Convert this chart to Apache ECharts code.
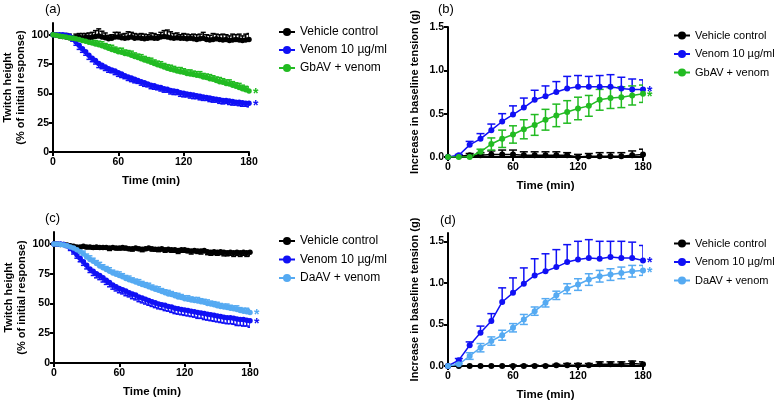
<!DOCTYPE html>
<html>
<head>
<meta charset="utf-8">
<script src="https://cdn.jsdelivr.net/npm/echarts@6/dist/echarts.min.js"></script>
<style>
html, body {margin: 0; background: #fff;}
#chart {width: 774px; height: 404px;}
</style>
</head>
<body>
<div id="chart"></div>
<script>
// twitch height panels, one reading every 3 min
var timeTwitch= [0,3,6,9,12,15,18,21,24,27,
  30,33,36,39,42,45,48,51,54,57,
  60,63,66,69,72,75,78,81,84,87,
  90,93,96,99,102,105,108,111,114,117,
  120,123,126,129,132,135,138,141,144,147,
  150,153,156,159,162,165,168,171,174,177,
  180];
// baseline tension panels, one reading every 10 min
var timeTension= [0,10,20,30,40,50,60,70,80,90,100,110,120,130,140,150,160,170,180];

var xTicks= [0,60,120,180];
var yTicksTwitch= [0,25,50,75,100];
var yTicksTension= [0,0.5,1.0,1.5];

var namesAB= ['Vehicle control', 'Venom 10 µg/ml', 'GbAV + venom'];
var namesCD= ['Vehicle control', 'Venom 10 µg/ml', 'DaAV + venom'];

// (a)
var vehicleA= [100,99.5,99,98.5,98,97.5,97,97.5,98,97,
  98,97.5,98,98.5,99,98,97.5,96.5,97,98,
  98,97.5,97,97.5,98,97,97.5,97,96.5,97,
  97.5,97,97,98,98.5,98,97.5,97,97.5,97,
  97,96.5,97,96.5,96,96.5,97,96,95.5,96,
  96.5,96,95.5,96,95,95.5,96,95.5,95,95.5,
  96];
var vehicleAErr= [0,1,2,2,3,3,2,3,3,4,
  3,4,4,5,6,5,4,3,3,4,
  4,3,4,5,4,4,3,4,4,3,
  4,4,3,4,5,6,5,4,4,3,
  4,4,3,4,4,4,5,4,4,5,
  4,4,5,4,4,5,4,5,4,5,
  5];
var venomA= [100,100,100,100,99.5,99,97,94,91,88,
  85.5,82.5,80,78,75.5,74,72.5,71,70,69,
  67.5,66.5,65,64,63,62,61,60,59,58,
  57,56.5,55.5,55,54,53.5,52.5,52,51.5,50.5,
  50,49.5,49,48.5,48,47.5,47,46.5,46,45.5,
  45,44.5,44,44,43.5,43,42.5,42.5,42,41.5,
  41.5];
var venomAErr= [0,0.5,1,1,1.5,2,2.5,3,3.5,3,
  3,3.5,3,3,3.5,3,3,3,2.5,3,
  3,3,2.5,3,3,3,2.5,3,3,2.5,
  3,3,2.5,3,3,2.5,3,3,2.5,3,
  3,2.5,3,3,2.5,3,3,2.5,3,3,
  2.5,3,3,2.5,3,3,2.5,3,3,2.5,
  3];
var gbavA= [100,99.5,99,98.5,98,97.5,97,96.5,96,95,
  94.5,93.5,93,92,91.5,90.5,89.5,88.5,87.5,86.5,
  85.5,85,84,83.5,82.5,81.5,80.5,79.5,78.5,77.5,
  76.5,75.5,74.5,73.5,72.5,71.5,70.5,70,69,68.5,
  68,67,66.5,66,65.5,65,64,63.5,62.5,62,
  61,60,59.5,58.5,58,57,56,55,54,53,
  52];
var gbavAErr= [0,0.5,1,1,1.5,2,2,2.5,3,3,
  3,3,3.5,3,3,3.5,3,3,3.5,3,
  3,3.5,3,3,3.5,3,3,3.5,3,3,
  3.5,3,3,3.5,3,3,3.5,3,3,3.5,
  3,3,3.5,3,3,3.5,3,3,3.5,3,
  3,3.5,3,3,3.5,3,3,3.5,3,3,
  3.5];

// (c)
var vehicleC= [100,100,99.5,99.5,99,98.5,98,97.5,97.5,98,
  97.5,97.5,97,97.5,97,97,97,96.5,97,96.5,
  96.5,97,96.5,96,96,96.5,96,95.5,96,96.5,
  96,95.5,95.5,96,95,95.5,95,95,94.5,95,
  95,94.5,94,94.5,94,94,94.5,93.5,93,93.5,
  93,93.5,93,92.5,93,92.5,93,92.5,93,92.5,
  93];
var vehicleCErr= [0,0.5,1,1,1,1.5,1.5,2,1.5,1.5,
  1.5,1.5,1.5,2,1.5,1.5,1.5,2,1.5,1.5,
  1.5,2,1.5,1.5,2,1.5,1.5,2,1.5,1.5,
  2,1.5,2,2,2,2,2,2,2.5,2,
  2,2,2.5,2,2,2.5,2,2.5,2.5,2.5,
  2.5,2.5,3,2.5,2.5,3,2.5,3,2.5,3,
  3];
var venomC= [100,100,100,99.5,98.5,96.5,94,91,88,85,
  82,79,77,75,73.5,71.5,69.5,67.5,65.5,64,
  62.5,61.5,60.5,59,58,57,55.5,54.5,53.5,52.5,
  51.5,50.5,49.5,49,48.5,47.5,47,46,45.5,45,
  44.5,44,43.5,43,42.5,42,41.5,41,40.5,40,
  39.5,39,38.5,38,38,37.5,37,36.5,36.5,36,
  35.5];
var venomCErr= [0,0.5,1,1,1.5,2,2.5,3,3,3,
  3,3,3.5,3.5,3.5,3.5,3.5,3.5,3.5,3.5,
  3.5,3.5,4,3.5,4,4,4,4,4,4,
  4,4,4,4,4.5,4,4.5,4.5,4.5,4.5,
  4.5,4.5,4.5,4.5,5,4.5,5,5,5,5,
  5,5,5,5,5,5,5.5,5,5.5,5,
  5.5];
var daavC= [100,100,99.5,99,98.5,97.5,96.5,95,93.5,91.5,
  89,87,85.5,83.5,81.5,80,78.5,77,75.5,74.5,
  73.5,72.5,71,70,69,68,67,66,65,64,
  63,62,61,60,59,58,57.5,56.5,55.5,55,
  54,53.5,53,52.5,52,51.5,51,50,49.5,49,
  48,47.5,47,46.5,46,45.5,45,44,43.5,43,
  42.5];
var daavCErr= [0,0.5,1,1,1.5,2,2,2.5,2.5,2.5,
  2.5,3,2.5,2.5,3,2.5,2.5,3,2.5,2.5,
  3,2.5,2.5,3,2.5,2.5,3,2.5,2.5,3,
  2.5,2.5,3,2.5,2.5,3,2.5,2.5,3,2.5,
  2.5,3,2.5,2.5,3,2.5,2.5,3,2.5,2.5,
  3,2.5,2.5,3,2.5,2.5,3,2.5,2.5,3,
  2.5];

// (b)
var vehicleB= [0,0.01,0.02,0.02,0.03,0.03,0.03,0.02,0.02,0.02,0.02,0.02,0.00,0.01,0.01,0.01,0.01,0.02,0.03];
var vehicleBErr= [0,0.01,0.02,0.03,0.04,0.05,0.05,0.04,0.04,0.04,0.04,0.03,0.03,0.03,0.04,0.04,0.04,0.05,0.06];
var venomB= [0,0.02,0.14,0.21,0.31,0.41,0.49,0.57,0.66,0.70,0.75,0.79,0.81,0.81,0.81,0.81,0.79,0.78,0.78];
var venomBErr= [0,0.01,0.04,0.06,0.07,0.09,0.10,0.11,0.11,0.12,0.12,0.14,0.13,0.12,0.13,0.14,0.13,0.12,0.11];
var gbavB= [0,0,0,0.06,0.15,0.21,0.26,0.32,0.37,0.43,0.48,0.52,0.56,0.59,0.66,0.68,0.69,0.71,0.73];
var gbavBErr= [0,0,0.01,0.03,0.07,0.10,0.10,0.11,0.12,0.12,0.13,0.13,0.13,0.12,0.12,0.12,0.12,0.11,0.10];

// (d)
var vehicleD= [0,0,0,0,0,0,0,0,0,0,0.01,0.01,0.01,0.01,0.02,0.02,0.02,0.03,0.02];
var vehicleDErr= [0,0,0,0,0,0,0.01,0.01,0.01,0.01,0.01,0.02,0.02,0.02,0.03,0.03,0.03,0.03,0.03];
var venomD= [0,0.07,0.25,0.40,0.54,0.77,0.88,0.99,1.09,1.14,1.19,1.25,1.28,1.30,1.29,1.31,1.30,1.30,1.27];
var venomDErr= [0,0.02,0.04,0.08,0.09,0.17,0.18,0.19,0.20,0.21,0.21,0.21,0.22,0.22,0.21,0.19,0.20,0.19,0.18];
var daavD= [0,0.02,0.12,0.22,0.30,0.37,0.46,0.56,0.66,0.76,0.85,0.93,0.98,1.04,1.08,1.10,1.12,1.14,1.15];
var daavDErr= [0,0.01,0.04,0.05,0.05,0.06,0.05,0.06,0.05,0.05,0.05,0.06,0.07,0.07,0.07,0.07,0.07,0.07,0.06];

var BLACK= '#000000', BLUE= '#1010f5', GREEN= '#22bb22', LIGHT= '#55aaf2';
var FONT= '"Liberation Sans", Arial, Helvetica, sans-serif';

function pairs(xs, ys) {
  return xs.map(function(x, i) { return [x, ys[i]]; });
}

function triples(xs, ys, es) {
  return xs.map(function(x, i) { return [x, ys[i], es[i]]; });
}

function lineSeries(grid, name, xs, ys, color, size, star) {
  return {
    type: 'line', name: name, xAxisIndex: grid, yAxisIndex: grid,
    data: pairs(xs, ys), symbol: 'circle', symbolSize: size, showSymbol: true,
    itemStyle: {color: color}, lineStyle: {color: color, width: 1.5},
    animation: false, z: 3,
    endLabel: {show: star, formatter: '*', color: color, fontFamily: FONT, fontSize: 14, fontWeight: 'bold', distance: 4, offset: [0, 3]}
  };
}

// dir: 'up', 'down' or 'both'
function errorSeries(grid, xs, ys, es, color, dir, cap) {
  return {
    type: 'custom', xAxisIndex: grid, yAxisIndex: grid, clip: true,
    data: triples(xs, ys, es), encode: {x: 0, y: 1}, silent: true, animation: false, z: 2,
    itemStyle: {color: color},
    renderItem: function(params, api) {
      var x= api.value(0), y= api.value(1), e= api.value(2);
      if(!e)
        return null;
      var hi= dir=== 'down'? y: y+ e;
      var lo= dir=== 'up'? y: y- e;
      var top= api.coord([x, hi]), bot= api.coord([x, lo]);
      var st= {stroke: color, lineWidth: 1.5};
      var kids= [{type: 'line', shape: {x1: top[0], y1: top[1], x2: bot[0], y2: bot[1]}, style: st}];
      if(dir!== 'down')
        kids.push({type: 'line', shape: {x1: top[0]- cap, y1: top[1], x2: top[0]+ cap, y2: top[1]}, style: st});
      if(dir!== 'up')
        kids.push({type: 'line', shape: {x1: bot[0]- cap, y1: bot[1], x2: bot[0]+ cap, y2: bot[1]}, style: st});
      return {type: 'group', children: kids};
    }
  };
}

function xAxisOf(grid) {
  return {
    type: 'value', gridIndex: grid, min: 0, max: 180, interval: 60,
    name: 'Time (min)', nameLocation: 'middle', nameGap: 23,
    nameTextStyle: {color: '#000', fontFamily: FONT, fontSize: 11.5, fontWeight: 'bold'},
    axisLine: {show: true, onZero: false, lineStyle: {color: '#000', width: 2}},
    axisTick: {show: true, length: 4, lineStyle: {color: '#000', width: 2}, customValues: xTicks},
    axisLabel: {color: '#000', fontFamily: FONT, fontSize: 10.5, fontWeight: 'bold', margin: 5, customValues: xTicks},
    splitLine: {show: false}
  };
}

function yAxisOf(grid, max, ticks, name, gap) {
  return {
    type: 'value', gridIndex: grid, min: 0, max: max,
    name: name, nameLocation: 'middle', nameGap: gap,
    nameTextStyle: {color: '#000', fontFamily: FONT, fontSize: 11, fontWeight: 'bold', lineHeight: 13},
    axisLine: {show: true, onZero: false, lineStyle: {color: '#000', width: 2}},
    axisTick: {show: true, length: 4, lineStyle: {color: '#000', width: 2}, customValues: ticks},
    axisLabel: {color: '#000', fontFamily: FONT, fontSize: 10.5, fontWeight: 'bold', margin: 4, customValues: ticks,
      formatter: function(v) { return max< 10? v.toFixed(1): String(v); }},
    splitLine: {show: false}
  };
}

function legendOf(left, top, names, size, gap) {
  return {
    orient: 'vertical', left: left, top: top, data: names, padding: 0,
    itemWidth: 16, itemHeight: 10, itemGap: gap, selectedMode: false,
    textStyle: {color: '#000', fontFamily: FONT, fontSize: size}
  };
}

function panelLabel(text, left, top) {
  return {type: 'text', left: left, top: top, style: {text: text, fill: '#000', font: '13px ' + FONT}};
}

var twitchName= 'Twitch height\n(% of initial response)';
var tensionName= 'Increase in baseline tension (g)';

var option= {
  backgroundColor: '#fff',
  animation: false,
  graphic: [
    panelLabel('(a)', 45, 3),
    panelLabel('(b)', 438, 3),
    panelLabel('(c)', 45, 212),
    panelLabel('(d)', 440, 214)
  ],
  legend: [
    legendOf(278, 26, namesAB, 12, 6),
    legendOf(673, 30, namesAB, 11, 7.5),
    legendOf(278, 235, namesCD, 12, 6.5),
    legendOf(673, 238, namesCD, 11, 7.5)
  ],
  grid: [
    {left: 53, top: 23, width: 196, height: 129},
    {left: 448, top: 27, width: 195, height: 130},
    {left: 54, top: 232, width: 196, height: 131},
    {left: 448, top: 233, width: 195, height: 133}
  ],
  xAxis: [xAxisOf(0), xAxisOf(1), xAxisOf(2), xAxisOf(3)],
  yAxis: [
    yAxisOf(0, 110, yTicksTwitch, twitchName, 23),
    yAxisOf(1, 1.5, yTicksTension, tensionName, 27),
    yAxisOf(2, 110, yTicksTwitch, twitchName, 23),
    yAxisOf(3, 1.6, yTicksTension, tensionName, 27)
  ],
  series: [
    lineSeries(0, namesAB[0], timeTwitch, vehicleA, BLACK, 5.5, false),
    lineSeries(0, namesAB[1], timeTwitch, venomA, BLUE, 5.5, true),
    lineSeries(0, namesAB[2], timeTwitch, gbavA, GREEN, 5.5, true),
    errorSeries(0, timeTwitch, vehicleA, vehicleAErr, BLACK, 'up', 2.5),
    errorSeries(0, timeTwitch, venomA, venomAErr, BLUE, 'down', 2.5),
    errorSeries(0, timeTwitch, gbavA, gbavAErr, GREEN, 'up', 2.5),

    lineSeries(1, namesAB[0], timeTension, vehicleB, BLACK, 6, false),
    lineSeries(1, namesAB[1], timeTension, venomB, BLUE, 6, true),
    lineSeries(1, namesAB[2], timeTension, gbavB, GREEN, 6, true),
    errorSeries(1, timeTension, vehicleB, vehicleBErr, BLACK, 'both', 4),
    errorSeries(1, timeTension, venomB, venomBErr, BLUE, 'up', 4),
    errorSeries(1, timeTension, gbavB, gbavBErr, GREEN, 'both', 4),

    lineSeries(2, namesCD[0], timeTwitch, vehicleC, BLACK, 5.5, false),
    lineSeries(2, namesCD[1], timeTwitch, venomC, BLUE, 5.5, true),
    lineSeries(2, namesCD[2], timeTwitch, daavC, LIGHT, 5.5, true),
    errorSeries(2, timeTwitch, vehicleC, vehicleCErr, BLACK, 'down', 2.5),
    errorSeries(2, timeTwitch, venomC, venomCErr, BLUE, 'down', 2.5),
    errorSeries(2, timeTwitch, daavC, daavCErr, LIGHT, 'up', 2.5),

    lineSeries(3, namesCD[0], timeTension, vehicleD, BLACK, 6, false),
    lineSeries(3, namesCD[1], timeTension, venomD, BLUE, 6, true),
    lineSeries(3, namesCD[2], timeTension, daavD, LIGHT, 6, true),
    errorSeries(3, timeTension, vehicleD, vehicleDErr, BLACK, 'both', 4),
    errorSeries(3, timeTension, venomD, venomDErr, BLUE, 'up', 4),
    errorSeries(3, timeTension, daavD, daavDErr, LIGHT, 'both', 4)
  ]
};

var chart= echarts.init(document.getElementById('chart'), null, {renderer: 'canvas'});
chart.setOption(option);
</script>
</body>
</html>
